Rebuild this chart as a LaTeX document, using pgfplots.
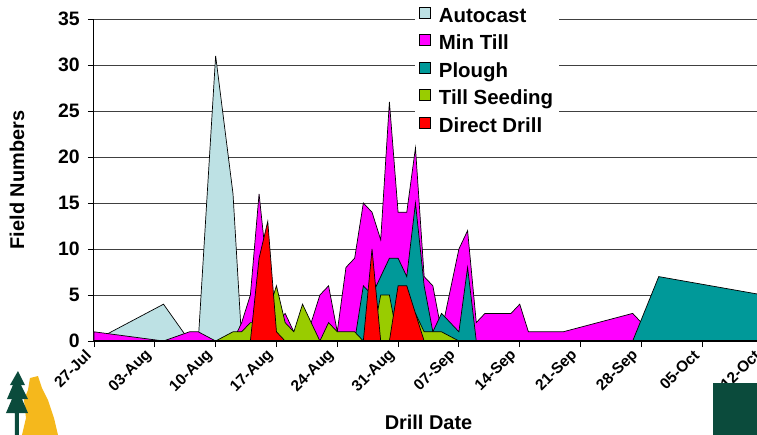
\documentclass[border=0pt]{standalone}
\usepackage{pgfplots}
\pgfplotsset{compat=1.18}
\usepackage{fontspec}
\setmainfont{Liberation Sans}

\definecolor{autoc}{HTML}{BDE1E4}
\definecolor{mintill}{HTML}{FF00FF}
\definecolor{plough}{HTML}{009999}
\definecolor{tillseed}{HTML}{99CC00}
\definecolor{ddrill}{HTML}{FF0000}
\definecolor{logogreen}{HTML}{0B4B3C}
\definecolor{logoyellow}{HTML}{F5B81C}

\begin{document}
\begin{tikzpicture}
\begin{axis}[
  scale only axis, width=669bp, height=322bp,
  at={(0,0)}, anchor=south west,
  xmin=0, xmax=77, ymin=0, ymax=35,
  axis lines*=left,
  separate axis lines,
  x axis line style={line width=2.2bp},
  y axis line style={line width=1bp},
  xtick={0,7,...,77},
  xticklabels={27-Jul,03-Aug,10-Aug,17-Aug,24-Aug,31-Aug,07-Sep,14-Sep,21-Sep,28-Sep,05-Oct,12-Oct},
  ytick={0,5,...,35},
  ymajorgrids, grid style={black!75, line width=0.9bp},
  tick align=outside, major tick length=6bp,
  tick style={black, line width=0.9bp},
  /pgf/number format/assume math mode=true,
  yticklabel style={font=\bfseries\fontsize{19.5}{19.5}\selectfont, inner sep=2bp, xshift=-6bp},
  xticklabel style={font=\bfseries\fontsize{15.5}{15.5}\selectfont, rotate=45, anchor=east, inner sep=1bp, xshift=-7bp},
  xlabel={Drill Date},
  ylabel={Field Numbers},
  xlabel style={font=\bfseries\fontsize{20}{20}\selectfont, at={(axis description cs:0.5,0)}, anchor=center, yshift=-81bp},
  ylabel style={font=\bfseries\fontsize{20}{20}\selectfont, at={(axis description cs:-0.1151,0.5)}, anchor=center},
  legend cell align=left,
  legend image code/.code={\draw[#1, draw=black, line width=0.8bp] (0bp,-1bp) rectangle (11bp,10bp); \path (17bp,0bp);},
  legend style={at={(axis description cs:0.4798,1.045)}, anchor=north west, draw=none, fill=white,
    font=\bfseries\fontsize{20.5}{20.5}\selectfont, row sep=5bp, inner xsep=4bp, inner ysep=1bp,
    nodes={text height=14.5bp, text depth=4bp, inner sep=2bp}},
]
% Autocast
\addplot[fill=autoc, draw=black, line width=0.7bp] coordinates {
(0,0) (8,4) (11,0) (12,0) (14,31) (16,16) (17,0) (77,0)
} \closedcycle;
\addlegendentry{Autocast}
% Min Till
\addplot[fill=mintill, draw=black, line width=0.7bp] coordinates {
(0,1) (8,0) (11,1) (12,1) (14,0) (16,0) (17,2) (18,5) (19,16) (20,7) (21,2) (22,3) (23,1) (24,1) (25,2) (26,5) (27,6) (28,1) (29,8) (30,9) (31,15) (32,14) (33,11) (34,26) (35,14) (36,14) (37,21) (38,7) (39,6) (40,1) (42,10) (43,12) (44,2) (45,3) (48,3) (49,4) (50,1) (54,1) (62,3) (65,0) (77,0)
} \closedcycle;
\addlegendentry{Min Till}
% Plough
\addplot[fill=plough, draw=black, line width=0.7bp] coordinates {
(29,0) (30,0) (31,6) (32,5) (33,7) (34,9) (35,9) (36,7) (37,15) (38,6) (39,1) (40,3) (42,1) (43,8) (44,0) (62,0) (65,7) (77,5)
} \closedcycle;
\addlegendentry{Plough}
% Till Seeding
\addplot[fill=tillseed, draw=black, line width=0.7bp] coordinates {
(14,0) (16,1) (17,1) (18,2) (19,2) (20,3) (21,6) (22,2) (23,1) (24,4) (26,0) (27,2) (28,1) (30,1) (31,0) (32,0) (33,5) (34,5) (35,0) (36,0) (37,3) (38,1) (40,1) (42,0)
} \closedcycle;
\addlegendentry{Till Seeding}
% Direct Drill
\addplot[fill=ddrill, draw=black, line width=0.7bp] coordinates {
(18,0) (19,9) (20,13) (21,1) (22,0) (31,0) (32,10) (33,0) (34,0) (35,6) (36,6) (37,3) (38,0)
} \closedcycle;
\addlegendentry{Direct Drill}
\draw[black, line width=2.2bp] (axis cs:0,0) -- (axis cs:77,0);
\end{axis}
% decorations (logo fragments)
\fill[logoyellow] (-64bp,-37bp) -- (-56bp,-35bp) -- (-52bp,-47bp) -- (-46bp,-59bp) -- (-40bp,-77bp) -- (-36bp,-94bp) -- (-72bp,-94bp) -- (-68bp,-77bp) -- (-70bp,-59bp) -- (-66bp,-49bp) -- cycle;
\fill[logogreen] (-76bp,-30bp) -- (-69bp,-44bp) -- (-73bp,-44bp) -- (-66bp,-58bp) -- (-72bp,-58bp) -- (-66bp,-72bp) -- (-75bp,-72bp) -- (-75bp,-94bp) -- (-79bp,-94bp) -- (-79bp,-72bp) -- (-88bp,-72bp) -- (-82bp,-58bp) -- (-87bp,-58bp) -- (-81bp,-44bp) -- (-84bp,-44bp) -- cycle;
\fill[logogreen] (619bp,-42bp) rectangle (663bp,-94bp);
\pgfresetboundingbox
\useasboundingbox (-94bp,-94bp) rectangle (663bp,341bp);
\end{tikzpicture}
\end{document}
